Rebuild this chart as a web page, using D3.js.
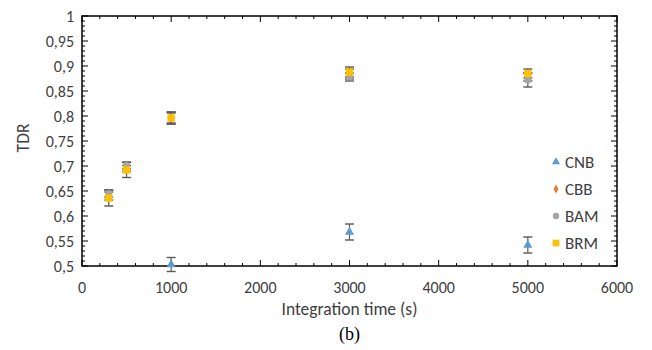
<!DOCTYPE html>
<html><head><meta charset="utf-8">
<script src="https://cdn.jsdelivr.net/npm/d3@7"></script>
<style>body{margin:0;background:#fff}svg{display:block;font-family:Carlito,Lato,"Open Sans",sans-serif}</style>
</head><body><svg id="c" width="652" height="350"></svg>
<script>
const seriesNames = ["CNB","CBB","BAM","BRM"];
const seriesColors = ["#5B9BD5","#ED7D31","#A5A5A5","#FFC000"];
const cnbX = [1000,3000,5000];
const cnbY = [0.503,0.568,0.542];
const cnbErr = [0.014,0.016,0.016];
const cbbX = [300,500,1000,3000,5000];
const cbbY = [0.640,0.695,0.796,0.884,0.878];
const cbbErr = [0.008,0.006,0.010,0.010,0.008];
const bamX = [300,500,1000,3000,5000];
const bamY = [0.645,0.701,0.796,0.878,0.872];
const bamErr = [0.007,0.007,0.012,0.008,0.014];
const brmX = [300,500,1000,3000,5000];
const brmY = [0.636,0.692,0.796,0.888,0.885];
const brmErr = [0.016,0.015,0.012,0.010,0.009];
const xTicks = [0,1000,2000,3000,4000,5000,6000];
const yTicks = [0.5,0.55,0.6,0.65,0.7,0.75,0.8,0.85,0.9,0.95,1];

const svg = d3.select("#c");
const L=82,R=617,T=16,B=266;
const x = d3.scaleLinear().domain([0,6000]).range([L,R]);
const y = d3.scaleLinear().domain([0.5,1]).range([B,T]);
const fmt = v => (v===1?"1":(v===0.5?"0,5":d3.format(".2~f")(v).replace(".",",")));

// minor ticks
const g = svg.append("g");
const xMinor = d3.range(0,6001,200);
const yMinor = d3.range(0,51).map(i=>0.5+i*0.01);
xMinor.forEach(v=>{
  const major = v%1000===0;
  const len = major?6:3;
  g.append("line").attr("x1",x(v)).attr("x2",x(v)).attr("y1",B).attr("y2",B-len).attr("stroke","#000").attr("stroke-width",1);
  g.append("line").attr("x1",x(v)).attr("x2",x(v)).attr("y1",T).attr("y2",T+len).attr("stroke","#000").attr("stroke-width",1);
});
yMinor.forEach((v,i)=>{
  const major = i%5===0;
  const len = major?6:3;
  g.append("line").attr("x1",L).attr("x2",L+len).attr("y1",y(v)).attr("y2",y(v)).attr("stroke","#000").attr("stroke-width",1);
  g.append("line").attr("x1",R).attr("x2",R-len).attr("y1",y(v)).attr("y2",y(v)).attr("stroke","#000").attr("stroke-width",1);
});
svg.append("rect").attr("x",L).attr("y",T).attr("width",R-L).attr("height",B-T).attr("fill","none").attr("stroke","#000").attr("stroke-width",1.5);

// axis labels
svg.append("g").selectAll("text").data(xTicks).join("text")
  .attr("x",d=>x(d)).attr("y",293).attr("text-anchor","middle").attr("font-size",16).attr("fill","#404040").text(d=>d);
svg.append("g").selectAll("text").data(yTicks).join("text")
  .attr("x",74).attr("y",d=>y(d)+5.5).attr("text-anchor","end").attr("font-size",16).attr("fill","#404040").text(fmt);
svg.append("text").attr("x",(L+R)/2).attr("y",315).attr("text-anchor","middle").attr("font-size",17.5).attr("fill","#404040").text("Integration time (s)");
svg.append("text").attr("transform","translate(29,138) rotate(-90)").attr("text-anchor","middle").attr("font-size",17.5).attr("fill","#404040").text("TDR");
svg.append("text").attr("x",(L+R)/2).attr("y",340).attr("text-anchor","middle").attr("font-size",18).attr("font-family","'Liberation Serif',serif").attr("fill","#000").text("(b)");

const series = [
  {xs:cnbX,ys:cnbY,es:cnbErr,shape:d3.symbolTriangle,size:36},
  {xs:cbbX,ys:cbbY,es:cbbErr,shape:d3.symbolDiamond,size:28},
  {xs:bamX,ys:bamY,es:bamErr,shape:d3.symbolCircle,size:40},
  {xs:brmX,ys:brmY,es:brmErr,shape:d3.symbolSquare,size:55}
];
const eg = svg.append("g");
const mg = svg.append("g");
series.forEach((s,si)=>{
  s.xs.forEach((xv,i)=>{
    const cx=x(xv), lo=y(s.ys[i]-s.es[i]), hi=y(s.ys[i]+s.es[i]);
    eg.append("line").attr("x1",cx).attr("x2",cx).attr("y1",lo).attr("y2",hi).attr("stroke","#595959").attr("stroke-width",1.2);
    [lo,hi].forEach(yy=>eg.append("line").attr("x1",cx-4.5).attr("x2",cx+4.5).attr("y1",yy).attr("y2",yy).attr("stroke","#595959").attr("stroke-width",1.4));
  });
});
series.forEach((s,si)=>{
  mg.selectAll(null).data(s.xs.map((xv,i)=>[xv,s.ys[i]])).join("path")
    .attr("d",d3.symbol().type(s.shape).size(s.size))
    .attr("transform",d=>`translate(${x(d[0])},${y(d[1])})`)
    .attr("fill",seriesColors[si]);
});

// legend
const lg = svg.append("g");
seriesNames.forEach((n,i)=>{
  const yy = 162+i*27;
  lg.append("path").attr("d",d3.symbol().type(series[i].shape).size(series[i].size*0.8)).attr("transform",`translate(556,${yy})`).attr("fill",seriesColors[i]);
  lg.append("text").attr("x",565).attr("y",yy+6).attr("font-size",17).attr("fill","#404040").text(n);
});
</script></body></html>
